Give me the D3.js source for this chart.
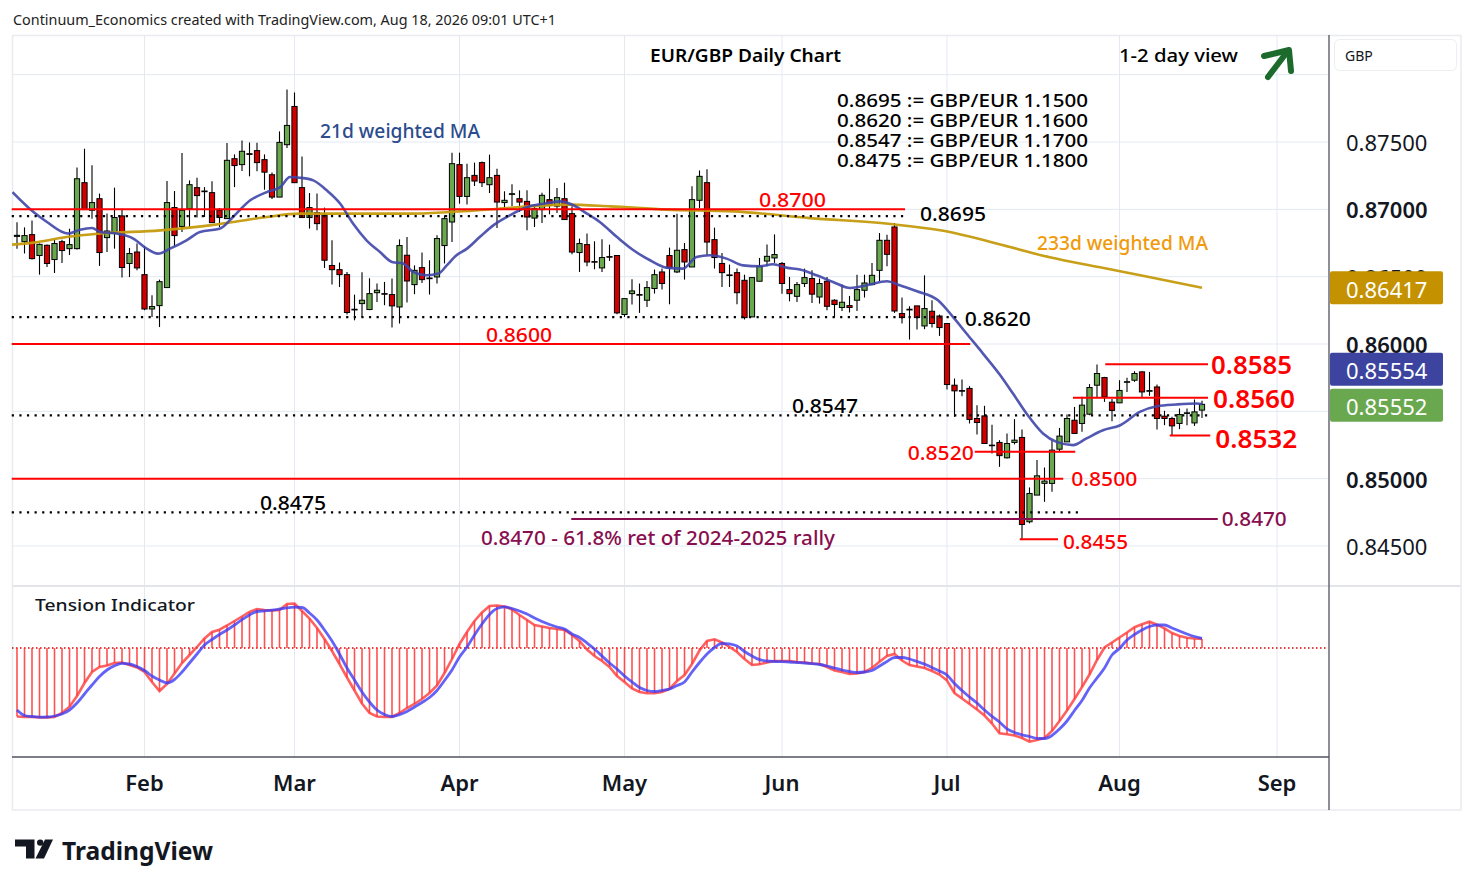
<!DOCTYPE html>
<html><head><meta charset="utf-8">
<script src="https://cdn.jsdelivr.net/npm/d3@7/dist/d3.min.js"></script>
<style>html,body{margin:0;padding:0;background:#fff;}svg{display:block;}text{font-family:"Noto Sans",sans-serif;}</style>
</head><body>
<svg id="chart" width="1474" height="887"></svg>
<script>
// ================= DATA =================
const firstBarDate = "2026-01-08";   // first visible daily bar (weekdays only)
const openP = [0.86799,0.8676,0.86812,0.86657,0.86733,0.86627,0.8676,0.86708,0.86708,0.87198,
0.86993,0.87079,0.8679,0.8682,0.86951,0.86598,0.86683,0.86515,0.8626,0.86285,
0.86419,0.87013,0.86873,0.87005,0.87161,0.87136,0.87124,0.86993,0.86931,0.87376,
0.87332,0.87413,0.87436,0.87369,0.87257,0.87091,0.8748,0.87764,0.87161,0.86939,
0.86976,0.86956,0.86583,0.86552,0.86515,0.86253,0.863,0.86256,0.86381,0.86374,
0.86367,0.86275,0.86659,0.86441,0.86567,0.8649,0.86498,0.86731,0.86906,0.87332,
0.87096,0.87252,0.87347,0.87183,0.87252,0.8705,0.87111,0.87079,0.87059,0.86935,
0.86998,0.87072,0.87024,0.87079,0.86968,0.86679,0.86738,0.86612,0.86565,0.86649,
0.86657,0.86219,0.86374,0.86367,0.86325,0.86412,0.86535,0.86657,0.86535,0.86701,
0.86572,0.87067,0.87198,0.86775,0.86598,0.86513,0.8653,0.86473,0.86201,0.86466,
0.86616,0.86639,0.86598,0.86404,0.86354,0.86449,0.86486,0.86349,0.86466,0.86325,
0.86271,0.86285,0.86325,0.86399,0.86441,0.86547,0.8677,0.86869,0.86226,0.86258,
0.86283,0.86134,0.86243,0.86208,0.86152,0.85694,0.85654,0.8567,0.85447,0.85466,
0.85249,0.85269,0.85155,0.85269,0.85306,0.8468,0.84878,0.84965,0.84965,0.85219,
0.85273,0.85434,0.8541,0.85479,0.85694,0.85751,0.85568,0.85563,0.85716,0.85731,
0.85793,0.85649,0.85681,0.85464,0.85447,0.8541,0.85486,0.85414,0.85509];
const highP = [0.86905,0.86866,0.86918,0.86746,0.86738,0.86777,0.86775,0.86856,0.8731,0.8745,
0.87327,0.87117,0.86969,0.87161,0.87005,0.86713,0.86746,0.86728,0.86362,0.86478,
0.8721,0.87136,0.87418,0.87215,0.87235,0.87165,0.87208,0.8701,0.87492,0.87408,
0.87512,0.87497,0.87495,0.87408,0.87274,0.87579,0.8789,0.87868,0.87393,0.87121,
0.87117,0.87013,0.8677,0.86605,0.86535,0.86367,0.86532,0.86488,0.86449,0.86461,
0.86486,0.86777,0.86794,0.86584,0.86679,0.86622,0.86807,0.86956,0.87421,0.87421,
0.87339,0.87347,0.87356,0.87406,0.87302,0.87134,0.87186,0.87141,0.87141,0.87035,
0.87124,0.87228,0.87158,0.87198,0.87022,0.86783,0.8682,0.86763,0.86777,0.86738,
0.86657,0.86337,0.86481,0.86449,0.86468,0.86553,0.86561,0.86716,0.86968,0.8675,
0.87171,0.87289,0.87297,0.86864,0.86676,0.8659,0.86561,0.86515,0.86498,0.86639,
0.86738,0.86814,0.86609,0.86498,0.86461,0.8656,0.86547,0.86486,0.86498,0.86332,
0.86441,0.86357,0.86515,0.86515,0.86602,0.86824,0.86812,0.86898,0.86345,0.8628,
0.86283,0.8651,0.86325,0.86219,0.86152,0.85744,0.85737,0.85687,0.85546,0.85541,
0.85401,0.85286,0.85336,0.85442,0.85365,0.84935,0.85138,0.85083,0.85286,0.85377,
0.85477,0.85533,0.85608,0.85702,0.85848,0.85756,0.85592,0.85731,0.85749,0.85798,
0.85798,0.85793,0.85699,0.85504,0.85459,0.85521,0.85521,0.85588,0.85578];
const lowP = [0.86708,0.86672,0.86627,0.86515,0.86572,0.86527,0.86602,0.86661,0.86701,0.86996,
0.86931,0.8658,0.86683,0.86708,0.86493,0.86497,0.86547,0.86251,0.86201,0.86126,
0.86419,0.86728,0.86831,0.86869,0.86939,0.86943,0.86901,0.86869,0.86931,0.87165,
0.87284,0.87245,0.87282,0.87146,0.87076,0.87091,0.87455,0.87198,0.86939,0.86857,
0.86844,0.86565,0.86441,0.86423,0.86219,0.86176,0.86201,0.86251,0.86312,0.86288,
0.86122,0.86152,0.86308,0.8637,0.86453,0.86367,0.86449,0.86598,0.86757,0.87042,
0.87035,0.87173,0.87165,0.87121,0.86861,0.87005,0.87022,0.8698,0.86844,0.86869,
0.86898,0.86963,0.86973,0.86924,0.86666,0.86535,0.86577,0.86555,0.86535,0.86617,
0.86221,0.86201,0.86293,0.86231,0.86275,0.86374,0.86404,0.86295,0.86527,0.86478,
0.86572,0.8701,0.86659,0.8656,0.86423,0.86423,0.86295,0.86182,0.86201,0.86466,
0.86577,0.86602,0.86374,0.86317,0.86312,0.86423,0.86305,0.863,0.86251,0.86196,
0.86245,0.86234,0.86245,0.86345,0.86436,0.86468,0.86577,0.86231,0.86152,0.86033,
0.86107,0.8611,0.86122,0.8606,0.85662,0.85459,0.85612,0.8541,0.85328,0.85261,
0.85187,0.85088,0.8515,0.85254,0.8455,0.84668,0.84878,0.84828,0.84902,0.85204,
0.85273,0.85336,0.85348,0.85471,0.85598,0.8557,0.85427,0.85563,0.85644,0.85719,
0.85607,0.85615,0.85365,0.85397,0.85318,0.85368,0.85397,0.85392,0.85451];
const closeP = [0.86807,0.86805,0.86634,0.8674,0.86598,0.86746,0.86694,0.86738,0.87227,0.86998,
0.8705,0.86679,0.86839,0.86939,0.86568,0.86672,0.86565,0.8626,0.86278,0.86463,
0.8705,0.86805,0.86993,0.87183,0.87102,0.87131,0.86901,0.86939,0.87364,0.87325,
0.87431,0.87408,0.87347,0.87276,0.87091,0.87497,0.87623,0.87198,0.86939,0.87013,
0.86894,0.86622,0.86552,0.86515,0.86234,0.86258,0.86325,0.86374,0.86399,0.8637,
0.86283,0.86731,0.86468,0.86547,0.86478,0.86485,0.86783,0.86931,0.87339,0.87096,
0.87235,0.8721,0.87198,0.87235,0.87054,0.87067,0.87116,0.87054,0.86943,0.87005,
0.87104,0.8703,0.87087,0.86924,0.86683,0.86746,0.86609,0.86609,0.86642,0.86646,
0.86231,0.86337,0.86394,0.86364,0.86419,0.86515,0.86449,0.86565,0.86696,0.86609,
0.87072,0.87245,0.86757,0.86642,0.8653,0.8651,0.86381,0.86196,0.86493,0.86577,
0.86651,0.86664,0.86449,0.86374,0.86441,0.86493,0.8637,0.86449,0.8628,0.86293,
0.8631,0.86271,0.86404,0.86453,0.8651,0.8677,0.86666,0.86245,0.86196,0.86253,
0.86196,0.86263,0.86152,0.86122,0.85699,0.85652,0.8565,0.8544,0.85417,0.85261,
0.85245,0.85171,0.85261,0.85286,0.8466,0.8489,0.85021,0.84982,0.85212,0.85316,
0.85447,0.85336,0.85546,0.85677,0.85781,0.85607,0.85507,0.85655,0.8572,0.85781,
0.85644,0.85654,0.85447,0.85447,0.85392,0.85476,0.85489,0.85496,0.85552];

// 21d weighted MA: [bar index, value]
const ma21 = [[-0.6,0.87128],[2.2,0.8698],[4.0,0.86906],[6.8,0.8682],[8.4,0.86849],[10.0,0.86861],[11.1,0.86832],[13.3,0.8682],[15.5,0.86783],[17.3,0.86708],[18.8,0.86671],[20.4,0.86708],[22.6,0.8677],[24.4,0.86832],[27.1,0.86857],[28.8,0.86943],[31.1,0.87067],[33.3,0.87128],[35.1,0.87165],[36.4,0.8724],[37.7,0.87235],[39.5,0.87215],[41.3,0.87141],[43.1,0.87042],[44.8,0.86894],[46.6,0.8677],[48.4,0.86683],[50.0,0.86609],[51.5,0.86597],[52.8,0.86535],[54.6,0.8651],[56.2,0.86523],[57.3,0.86584],[58.6,0.86659],[60.0,0.86708],[61.7,0.86794],[63.5,0.86881],[65.7,0.86955],[68.0,0.87017],[70.2,0.87042],[72.4,0.87059],[74.2,0.8703],[76.0,0.86968],[77.7,0.86906],[80.0,0.86794],[82.2,0.86696],[84.4,0.86622],[86.6,0.86567],[88.8,0.8656],[90.6,0.86646],[92.4,0.86659],[94.6,0.86634],[96.8,0.86584],[99.1,0.86577],[100.8,0.86592],[102.6,0.86567],[104.4,0.86553],[106.6,0.8651],[108.8,0.86461],[111.1,0.86416],[113.3,0.86436],[116.0,0.86466],[117.7,0.86436],[120.0,0.86392],[122.8,0.86325],[124.8,0.86201],[126.6,0.86078],[128.8,0.85929],[131.1,0.85768],[132.8,0.85632],[134.6,0.85484],[136.8,0.85336],[138.6,0.85273],[140.8,0.85249],[142.6,0.85299],[144.8,0.8536],[147.1,0.85397],[149.7,0.85496],[152.0,0.85538],[154.6,0.85551],[157.3,0.85558],[158,0.85554]];
// 233d weighted MA
const ma233 = [[-0.7,0.86738],[2.2,0.86753],[6.6,0.86794],[11.1,0.8682],[19.1,0.86844],[25.7,0.86881],[28.8,0.86906],[33.3,0.86943],[37.7,0.86968],[46.6,0.86968],[52.4,0.86968],[57.7,0.8698],[64.4,0.87005],[68.8,0.87024],[73.3,0.87035],[79.1,0.87022],[86.6,0.86998],[95.5,0.86985],[105.7,0.86935],[116.8,0.86889],[123.1,0.86844],[132.4,0.8672],[137.7,0.86644],[144.4,0.8657],[151.1,0.86495],[158,0.86417]];

// Tension indicator (per bar) and its signal line
const tension = [-6.85,-6.9,-6.9,-6.95,-6.95,-6.9,-6.5,-5.87,-4.8,-3.5,
-2.4,-1.9,-1.75,-1.5,-1.45,-1.7,-1.95,-2.4,-3.4,-4.3,
-3.6,-2.55,-1.5,-0.7,0.1,0.95,1.6,1.83,2.25,2.7,
3.15,3.6,3.9,3.8,3.75,3.8,4.4,4.45,3.7,2.95,
2.0,0.9,-0.3,-1.6,-2.95,-4.25,-5.55,-6.5,-6.85,-6.9,
-6.9,-6.5,-6.0,-5.6,-5.1,-4.5,-3.75,-2.5,-1.1,0.4,
1.6,2.7,3.55,4.2,4.25,4.15,3.85,3.3,2.8,2.3,
2.15,2.0,1.9,1.8,1.3,0.7,-0.15,-0.8,-1.3,-1.9,
-2.8,-3.4,-4.05,-4.4,-4.53,-4.53,-4.4,-4.1,-3.3,-2.7,
-1.6,-0.25,0.7,0.87,0.55,0.1,-0.4,-1.1,-1.7,-1.63,
-1.45,-1.3,-1.3,-1.3,-1.4,-1.45,-1.55,-1.6,-1.9,-2.25,
-2.4,-2.6,-2.55,-2.4,-2.0,-1.37,-0.8,-0.6,-1.25,-1.7,
-1.85,-2.0,-2.3,-2.65,-3.25,-4.5,-5.05,-5.6,-6.15,-6.75,
-7.55,-8.53,-8.63,-8.75,-9.0,-9.37,-9.2,-9.0,-8.3,-7.3,
-6.25,-5.1,-3.9,-2.65,-1.2,0.05,0.55,1.05,1.55,2.08,
2.37,2.63,2.33,1.97,1.5,1.2,1.03,0.95,0.9];
const tensionSignal = [-6.2,-6.75,-6.85,-6.92,-6.9,-6.8,-6.6,-6.2,-5.5,-4.6,
-3.7,-2.85,-2.2,-1.78,-1.53,-1.6,-1.85,-2.25,-2.8,-3.2,
-3.5,-3.15,-2.4,-1.5,-0.6,0.3,0.85,1.35,1.8,2.3,
2.83,3.3,3.65,3.72,3.79,3.9,4.02,4.08,4.05,3.5,
2.8,1.8,0.7,-0.6,-2.0,-3.2,-4.4,-5.4,-6.2,-6.65,
-6.85,-6.67,-6.35,-5.9,-5.45,-4.95,-4.25,-3.25,-2.2,-0.9,
0.1,1.3,2.4,3.35,3.95,4.12,3.95,3.7,3.4,3.0,
2.65,2.35,2.1,1.9,1.4,1.05,0.5,-0.1,-0.8,-1.5,
-2.1,-2.8,-3.4,-3.95,-4.25,-4.35,-4.25,-4.1,-3.75,-3.4,
-2.4,-1.45,-0.6,0.05,0.47,0.4,0.2,-0.35,-0.8,-1.17,
-1.3,-1.35,-1.37,-1.4,-1.45,-1.5,-1.57,-1.65,-1.8,-2.0,
-2.2,-2.35,-2.45,-2.4,-2.25,-1.8,-1.35,-0.95,-0.95,-1.1,
-1.35,-1.6,-1.95,-2.3,-2.7,-3.55,-4.25,-4.9,-5.5,-6.2,
-6.83,-7.4,-8.08,-8.45,-8.68,-8.85,-9.03,-9.05,-8.75,-8.1,
-7.3,-6.25,-5.25,-4.0,-3.0,-2.0,-0.7,-0.05,0.8,1.35,
1.8,2.15,2.3,2.3,2.0,1.7,1.4,1.15,0.97];

// price axis ticks (0.85500 is fully covered by the last-price tags in the reference)
const gridPrices = [0.845,0.85,0.855,0.86,0.865,0.87,0.875,0.88];
const tickPrices = [0.845,0.85,0.86,0.865,0.87,0.875];
const lastClose = 0.85552, lastMa21 = 0.85554, lastMa233 = 0.86417;

// analyst levels: price, start/end bar index, text
const levels = [
 {p:0.8700,from:-0.7,to:118.4,kind:"red",    text:"0.8700"},
 {p:0.8695,from:-0.7,to:118.4,kind:"dot",    text:"0.8695"},
 {p:0.8620,from:-0.7,to:125.7,kind:"dot",    text:"0.8620"},
 {p:0.8600,from:-0.7,to:127.1,kind:"red",    text:"0.8600"},
 {p:0.8547,from:-0.7,to:159.1,kind:"dot",    text:"0.8547"},
 {p:0.8500,from:-0.7,to:139.5,kind:"red",    text:"0.8500"},
 {p:0.8475,from:-0.7,to:141.7,kind:"dot",    text:"0.8475"},
 {p:0.8470,from:73.9,to:160.1,kind:"maroon", text:"0.8470"},
 {p:0.8585,from:145.1,to:158.8,kind:"red",   text:"0.8585"},
 {p:0.8560,from:140.8,to:158.8,kind:"red",   text:"0.8560"},
 {p:0.8532,from:153.7,to:159.1,kind:"red",   text:"0.8532"},
 {p:0.8520,from:127.7,to:141.1,kind:"red",   text:"0.8520"},
 {p:0.8455,from:133.7,to:138.8,kind:"red",   text:"0.8455"}
];
const conversions = ["0.8695 := GBP/EUR 1.1500","0.8620 := GBP/EUR 1.1600","0.8547 := GBP/EUR 1.1700","0.8475 := GBP/EUR 1.1800"];

// ================= DRAW =================
const svg = d3.select("#chart");
const X0=12, X1=1328, MT=35, MB=585, IT=587, IB=757, AB=810, AX=1329, RE=1461;
const x = d3.scaleLinear().domain([-0.667,174.8]).range([X0,X1]);
const y = d3.scaleLinear().domain([0.845,0.875]).range([546,142]);
const yT = d3.scaleLinear().domain([-10,5]).range([748,598]);

svg.append("rect").attr("width",1474).attr("height",887).attr("fill","#fff");

// dates / month ticks
const dates=[]; {let d=new Date(firstBarDate+"T00:00:00Z"); while(dates.length<185){const w=d.getUTCDay(); if(w>0&&w<6) dates.push(new Date(d)); d.setUTCDate(d.getUTCDate()+1);} }
const monthStarts=[]; for(let i=1;i<dates.length;i++){ if(dates[i].getUTCMonth()!==dates[i-1].getUTCMonth() && x(i)<X1-20) monthStarts.push(i); }
const fmtMonth = d3.utcFormat("%b");

const defs = svg.append("defs");
defs.append("clipPath").attr("id","clipMain").append("rect").attr("x",X0).attr("y",MT).attr("width",X1-X0).attr("height",MB-MT);
defs.append("clipPath").attr("id","clipInd").append("rect").attr("x",X0).attr("y",IT).attr("width",X1-X0).attr("height",IB-IT);

// frame
svg.append("rect").attr("x",12.5).attr("y",35.5).attr("width",RE-12.5).attr("height",AB-35.5).attr("fill","none").attr("stroke","#e9ebf0").attr("stroke-width",1.5);

// grid
const grid = svg.append("g");
monthStarts.forEach(i=>{
  grid.append("line").attr("x1",x(i)).attr("x2",x(i)).attr("y1",MT).attr("y2",IB).attr("stroke","#e3e9f1").attr("stroke-width",1);
});
gridPrices.forEach(p=>{
  grid.append("line").attr("x1",X0).attr("x2",X1).attr("y1",y(p)).attr("y2",y(p)).attr("stroke","#e3e9f1").attr("stroke-width",1);
});
// pane separator
svg.append("line").attr("x1",X0).attr("x2",RE).attr("y1",586).attr("y2",586).attr("stroke","#e3e5ea").attr("stroke-width",2);

// ---------- main pane ----------
const main = svg.append("g").attr("clip-path","url(#clipMain)");
const bars = d3.range(closeP.length);
const cg = main.append("g");
cg.selectAll("line.wick").data(bars).join("line")
  .attr("x1",i=>x(i)).attr("x2",i=>x(i)).attr("y1",i=>y(highP[i])).attr("y2",i=>y(lowP[i]))
  .attr("stroke","#000").attr("stroke-width",1.1);
cg.selectAll("rect.body").data(bars).join("rect")
  .attr("x",i=>x(i)-2.6).attr("width",5.2)
  .attr("y",i=>y(Math.max(openP[i],closeP[i])))
  .attr("height",i=>Math.max(0.6,Math.abs(y(openP[i])-y(closeP[i]))))
  .attr("fill",i=>closeP[i]>=openP[i]?"#6aa84f":"#d00000")
  .attr("stroke","#000").attr("stroke-width",1);

// moving averages
const maLine = d3.line().x(d=>x(d[0])).y(d=>y(d[1])).curve(d3.curveMonotoneX);
main.append("path").attr("d",maLine(ma233)).attr("fill","none").attr("stroke","#c49a0c").attr("stroke-width",2.6).attr("opacity",0.95);
main.append("path").attr("d",maLine(ma21)).attr("fill","none").attr("stroke","#3f45a8").attr("stroke-width",2.6).attr("opacity",0.9);

// levels
const lg = svg.append("g");
const lvStyle = {red:{c:"#ff0000",w:2,dash:null}, dot:{c:"#000",w:2.2,dash:"2.2 5.4"}, maroon:{c:"#880e4f",w:2,dash:null}};
levels.forEach(l=>{
  const s = lvStyle[l.kind];
  const ln = lg.append("line").attr("x1",x(l.from)).attr("x2",x(l.to)).attr("y1",y(l.p)).attr("y2",y(l.p))
    .attr("stroke",s.c).attr("stroke-width",s.w);
  if(s.dash) ln.attr("stroke-dasharray",s.dash);
});
function lbl(t,xx,yy,opts){
  const e = svg.append("text").attr("x",xx).attr("y",yy).text(t)
    .attr("dominant-baseline","central")
    .attr("font-size",opts.size||20).attr("font-weight",opts.weight||500)
    .attr("fill",opts.fill||"#000").attr("text-anchor",opts.anchor||"start");
  if(opts.len) e.attr("textLength",opts.len).attr("lengthAdjust","spacingAndGlyphs");
  return e;
}
const L = Object.fromEntries(levels.map(l=>[l.text,l]));
lbl(L["0.8700"].text, 759, y(0.8700)-10, {fill:"#ff0000",size:20,len:67});
lbl(L["0.8695"].text, x(L["0.8695"].to)+15, y(0.8695)-3, {size:20,len:66});
lbl(L["0.8620"].text, x(L["0.8620"].to)+5, y(0.8620)+1, {size:20,len:66});
lbl(L["0.8600"].text, 486, y(0.8600)-10, {fill:"#ff0000",size:20,len:66});
lbl(L["0.8547"].text, 792, y(0.8547)-10, {size:20,len:66});
lbl(L["0.8500"].text, x(L["0.8500"].to)+8, y(0.8500), {fill:"#ff0000",size:20,len:66});
lbl(L["0.8475"].text, 260, y(0.8475)-10, {size:20,len:66});
lbl(L["0.8470"].text, x(L["0.8470"].to)+4, y(0.8470), {fill:"#880e4f",size:19,len:65});
lbl("0.8470 - 61.8% ret of 2024-2025 rally", 481, y(0.8470)+19, {fill:"#880e4f",size:19,len:354});
lbl(L["0.8585"].text, x(L["0.8585"].to)+3, y(0.8585), {fill:"#ff0000",size:25,weight:600,len:81});
lbl(L["0.8560"].text, x(L["0.8560"].to)+5, y(0.8560), {fill:"#ff0000",size:25,weight:600,len:82});
lbl(L["0.8532"].text, x(L["0.8532"].to)+5, y(0.8532)+2, {fill:"#ff0000",size:25,weight:600,len:82});
lbl(L["0.8520"].text, x(L["0.8520"].from)-1, y(0.8520)+1, {fill:"#ff0000",size:20,anchor:"end",len:66});
lbl(L["0.8455"].text, x(L["0.8455"].to)+5, y(0.8455)+2, {fill:"#ff0000",size:20,len:65});

// headings and notes
lbl("Continuum_Economics created with TradingView.com, Aug 18, 2026 09:01 UTC+1", 13, 19, {fill:"#222",size:14,weight:400,len:543});
lbl("EUR/GBP Daily Chart", 650, 55, {size:18,weight:600,len:191});
lbl("1-2 day view", 1119, 55, {size:18,weight:500,len:119});
conversions.forEach((t,k)=>lbl(t, 837, 100+k*20, {size:17.5,weight:500,len:251}));
lbl("21d weighted MA", 320, 131, {fill:"#2b4c8e",size:19,weight:500,len:160});
lbl("233d weighted MA", 1037, 243, {fill:"#f09a0c",size:19,weight:500,len:171});

// arrow
const ag = svg.append("g").attr("stroke","#1d6b2c").attr("stroke-width",6).attr("stroke-linecap","round").attr("fill","none");
ag.append("line").attr("x1",1268).attr("y1",77).attr("x2",1287).attr("y2",52);
ag.append("polyline").attr("points","1264,56 1289,50 1291,71").attr("stroke-linejoin","round");

// ---------- indicator pane ----------
const ind = svg.append("g").attr("clip-path","url(#clipInd)");
ind.append("line").attr("x1",X0).attr("x2",X1).attr("y1",yT(0)).attr("y2",yT(0))
  .attr("stroke","#e00000").attr("stroke-width",1.3).attr("stroke-dasharray","1.5 2.5");
ind.selectAll("line.hist").data(bars).join("line")
  .attr("x1",i=>x(i)).attr("x2",i=>x(i)).attr("y1",yT(0)).attr("y2",i=>yT(tension[i]))
  .attr("stroke","#ff3333").attr("stroke-width",1.6).attr("opacity",0.85);
ind.append("path").attr("d",d3.line().x((d,i)=>x(i)).y(d=>yT(d))(tension))
  .attr("fill","none").attr("stroke","#ff3a3a").attr("stroke-width",2.6).attr("opacity",0.8);
ind.append("path").attr("d",d3.line().x((d,i)=>x(i)).y(d=>yT(d)).curve(d3.curveMonotoneX)(tensionSignal))
  .attr("fill","none").attr("stroke","#3c3cf5").attr("stroke-width",2.8).attr("opacity",0.8);
lbl("Tension Indicator", 35, 604, {fill:"#131722",size:17,weight:500,len:160});

// ---------- axes ----------
svg.append("line").attr("x1",AX).attr("x2",AX).attr("y1",MT).attr("y2",AB).attr("stroke","#50535e").attr("stroke-width",1.3);
svg.append("line").attr("x1",X0).attr("x2",AX).attr("y1",IB).attr("y2",IB).attr("stroke","#50535e").attr("stroke-width",1.3);

monthStarts.forEach(i=>{
  svg.append("text").attr("x",x(i)).attr("y",782).attr("text-anchor","middle").attr("dominant-baseline","central")
    .attr("font-size",22).attr("font-weight",600).attr("fill","#131722").text(fmtMonth(dates[i]));
});
const fmtP = d3.format(".5f");
tickPrices.forEach(p=>{
  const round = Math.abs(p*100-Math.round(p*100))<1e-6;
  svg.append("text").attr("x",1346).attr("y",y(p)).attr("dominant-baseline","central")
    .attr("font-size",22).attr("font-weight",round?600:400).attr("fill","#131722").text(fmtP(p));
});
// last value labels
function priceBox(val, cy, fill){
  svg.append("rect").attr("x",1330).attr("y",cy-16.5).attr("width",113).attr("height",33).attr("rx",2).attr("fill",fill);
  svg.append("text").attr("x",1346).attr("y",cy+1).attr("dominant-baseline","central").attr("font-size",22).attr("fill","#fff").text(fmtP(val));
}
priceBox(lastMa233, y(lastMa233), "#c49200");
priceBox(lastClose, y(lastClose)+1, "#6aa84f");
priceBox(lastMa21, y(lastClose)-35, "#3c44a0");

// currency box
svg.append("rect").attr("x",1334.5).attr("y",39.5).attr("width",122).attr("height",31).attr("rx",5).attr("fill","#fff").attr("stroke","#eceef2");
svg.append("text").attr("x",1345).attr("y",55).attr("dominant-baseline","central").attr("font-size",14).attr("fill","#131722").text("GBP");

// ---------- TradingView logo ----------
const logo = svg.append("g").attr("fill","#131722");
logo.append("path").attr("d","M15,839.5 H34.5 V858.5 H26 V846.5 H15 Z");
logo.append("circle").attr("cx",40.2).attr("cy",842.6).attr("r",3.2);
logo.append("path").attr("d","M45,839.5 H53 L44,858.5 H35.5 Z");
lbl("TradingView", 62, 850, {fill:"#131722",size:25,weight:700,len:151});
</script>
</body></html>
